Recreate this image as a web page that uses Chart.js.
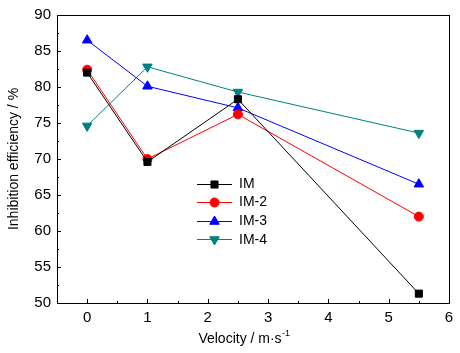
<!DOCTYPE html>
<html><head><meta charset="utf-8">
<script src="https://cdn.jsdelivr.net/npm/chart.js@4/dist/chart.umd.min.js"></script>
<style>html,body{margin:0;padding:0;background:#fff}#wrap{width:460px;height:353px}</style>
</head><body><div id="wrap"><canvas id="c" width="460" height="353"></canvas></div>
<script>
const velocities = [0, 1, 2.5, 5.5];
const seriesNames = ['IM', 'IM-2', 'IM-3', 'IM-4'];
const imValues  = [82.0, 69.6, 78.3, 51.3];
const im2Values = [82.4, 70.0, 76.2, 62.0];
const im3Values = [86.5, 80.1, 77.1, 66.5];
const im4Values = [74.6, 82.8, 79.3, 73.6];
const xTicks = [0, 1, 2, 3, 4, 5, 6];
const yTicks = [50, 55, 60, 65, 70, 75, 80, 85, 90];
const xTitle = 'Velocity / m\u00B7s';
const xTitleSup = '-1';
const yTitle = 'Inhibition efficiency / %';

const FONT = '"Liberation Sans", Arial, sans-serif';
const colors = ['#000000', '#ff0000', '#0000ff', '#008080'];
const styles = ['rect', 'circle', 'triangle', 'triangle'];
const rotations = [0, 0, 0, 180];
const radii = [5, 4.5, 5.5, 5.5];
const allValues = [imValues, im2Values, im3Values, im4Values];

const datasets = allValues.map((vals, i) => ({
  label: seriesNames[i],
  data: velocities.map((v, j) => ({x: v, y: vals[j]})),
  borderColor: colors[i],
  backgroundColor: colors[i],
  borderWidth: 1,
  pointStyle: styles[i],
  rotation: rotations[i],
  pointRadius: radii[i],
  pointHoverRadius: radii[i],
  pointBorderWidth: 1,
  tension: 0,
  clip: false
}));

const framePlugin = {
  id: 'frame',
  afterDraw(chart) {
    const ctx = chart.ctx, a = chart.chartArea;
    const xs = chart.scales.x, ys = chart.scales.y;
    ctx.save();
    ctx.strokeStyle = '#000';
    ctx.lineWidth = 1;
    ctx.strokeRect(Math.round(a.left) + 0.5, Math.round(a.top) + 0.5,
                   Math.round(a.right - a.left), Math.round(a.bottom - a.top));
    ctx.beginPath();
    for (let v = ys.min; v <= ys.max + 1e-9; v += 2.5) {
      const y = Math.round(ys.getPixelForValue(v)) + 0.5;
      const major = Math.abs(v % 5) < 1e-9;
      ctx.moveTo(a.left, y); ctx.lineTo(a.left + (major ? 4 : 2), y);
    }
    for (let v = -0.5; v <= xs.max + 1e-9; v += 0.5) {
      const x = Math.round(xs.getPixelForValue(v)) + 0.5;
      const major = Math.abs(v - Math.round(v)) < 1e-9;
      ctx.moveTo(x, a.bottom); ctx.lineTo(x, a.bottom - (major ? 4 : 2));
    }
    ctx.stroke();

    ctx.fillStyle = '#000';
    ctx.textBaseline = 'alphabetic';
    ctx.font = '14px ' + FONT;
    const w1 = ctx.measureText(xTitle).width;
    ctx.font = '9px ' + FONT;
    const w2 = ctx.measureText(xTitleSup).width;
    const cx = (a.left + a.right) / 2 - 9;
    const x0 = cx - (w1 + w2) / 2;
    ctx.font = '14px ' + FONT;
    ctx.textAlign = 'left';
    ctx.fillText(xTitle, x0, 343);
    ctx.font = '9px ' + FONT;
    ctx.fillText(xTitleSup, x0 + w1 + 0.5, 336);

    const lx = 197, lw = 35, ly0 = 183.5, dy = 18.6;
    chart.data.datasets.forEach((ds, i) => {
      const y = ly0 + i * dy;
      ctx.strokeStyle = ds.borderColor;
      ctx.lineWidth = 1;
      ctx.beginPath();
      ctx.moveTo(lx, Math.round(y) + 0.5); ctx.lineTo(lx + lw, Math.round(y) + 0.5);
      ctx.stroke();
      ctx.fillStyle = ds.backgroundColor;
      Chart.helpers.drawPoint(ctx, {pointStyle: ds.pointStyle, rotation: ds.rotation, radius: ds.pointRadius, borderWidth: 1}, lx + lw / 2, Math.round(y) + 0.5);
      ctx.fillStyle = '#000';
      ctx.font = '14px ' + FONT;
      ctx.textAlign = 'left';
      ctx.textBaseline = 'middle';
      ctx.fillText(ds.label, lx + lw + 7, y + 0.5);
    });
    ctx.restore();
  }
};

new Chart(document.getElementById('c'), {
  type: 'line',
  data: { datasets },
  options: {
    responsive: false,
    animation: false,
    events: [],
    layout: { padding: { top: 11, right: 11, left: 0, bottom: 0 } },
    plugins: { legend: { display: false }, tooltip: { enabled: false } },
    scales: {
      x: {
        type: 'linear', min: -0.5, max: 6,
        grid: { display: false, drawTicks: false },
        border: { display: false },
        afterBuildTicks(s) { s.ticks = xTicks.map(v => ({value: v})); },
        afterFit(s) { s.height = 50; },
        ticks: { color: '#000', padding: 6, font: { family: FONT, size: 15 }, maxRotation: 0, autoSkip: false }
      },
      y: {
        type: 'linear', min: 50, max: 90,
        grid: { display: false, drawTicks: false },
        border: { display: false },
        afterBuildTicks(s) { s.ticks = yTicks.map(v => ({value: v})); },
        afterFit(s) { s.width = 57; },
        title: { display: true, text: yTitle, color: '#000', font: { family: FONT, size: 14 }, padding: { top: 6, bottom: 4 } },
        ticks: { color: '#000', padding: 6, font: { family: FONT, size: 15 } }
      }
    }
  },
  plugins: [framePlugin]
});
</script></body></html>
